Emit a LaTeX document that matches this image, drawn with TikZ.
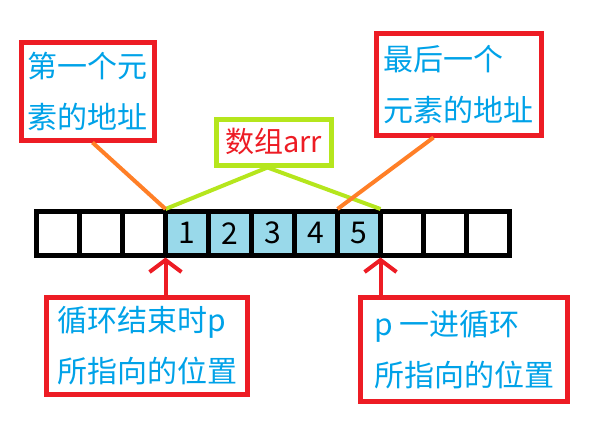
\documentclass[tikz,border=0pt]{standalone}
\usepackage{fontspec}
\setmainfont{Noto Sans CJK SC}
\usepackage{tikz}
\usetikzlibrary{calc}
\usetikzlibrary{positioning, arrows.meta}
\definecolor{paintred}{HTML}{ED1C24}
\definecolor{paintblue}{HTML}{00A2E8}
\definecolor{paintlime}{HTML}{B5E61D}
\definecolor{paintorange}{HTML}{FF7F27}
\definecolor{cellblue}{HTML}{99D9EA}
\tikzset{
    orangeline/.style={paintorange, line width=4pt},
    limeline/.style={paintlime, line width=4pt},
    pointer/.style={-{Straight Barb[length=12pt, width=32pt]}, paintred, line width=4pt}
}

\begin{document}
\begin{tikzpicture}[
    x=1pt, y=-1pt,
    % 格子与说明框
    cell/.style={
        rectangle, draw=black, line width=5pt,
        minimum width=43pt, minimum height=43.5pt, inner sep=0pt,
        font=\fontsize{30}{36}\selectfont
    },
    used/.style={fill=cellblue},
    note/.style={
        rectangle, draw=paintred, line width=5pt, inner sep=0pt,
        align=left, text=paintblue, font=\fontsize{30}{51}\selectfont
    },
    title/.style={
        rectangle, draw=paintlime, line width=5pt, inner sep=0pt,
        text=paintred, font=\fontsize{29}{35}\selectfont
    }
]
    \useasboundingbox (0,0) rectangle (604,447);

    % 1. 数组格子 (前后空格 + 五个元素)
    \foreach \i in {1,2,3,9,10,11}
        \node[cell] (c\i) at ({15+43*\i},233.25) {};
    \foreach \v in {1,...,5} {
        \pgfmathtruncatemacro{\i}{\v+3}
        \node[cell, used] (c\i) at ({15+43*\i},233.25) {\v};
    }

    % 2. 格子之间的分界点
    \coordinate (topL) at ($(c3.north east)!.5!(c4.north west)$);
    \coordinate (topM) at ($(c7.north east)!.5!(c8.north west)$);
    \coordinate (topR) at ($(c8.north east)!.5!(c9.north west)$);
    \coordinate (lowL) at ($(c3.south east)!.5!(c4.south west)$);
    \coordinate (lowR) at ($(c8.south east)!.5!(c9.south west)$);

    % 3. 上方说明
    \node[note, minimum width=133pt, minimum height=98pt] (first) at (87.5,91) {第一个元\\素的地址};
    \node[note, minimum width=165pt, minimum height=101.5pt] (last) at (458.5,84.25) {最后一个\\元素的地址};
    \node[title, minimum width=115pt, minimum height=46pt] (arr) at (273.5,142) {数组arr};

    \draw[limeline] (topL) -- ([xshift=-6pt]arr.south) -- (topR);
    \draw[orangeline] ([xshift=5pt]first.south) -- (topL);
    \draw[orangeline] ([xshift=-25pt]last.south) -- (topM);

    % 4. 下方说明 (指针位置)
    \node[note, minimum width=201pt, minimum height=97pt] (stop) at (147,346) {循环结束时p\\所指向的位置};
    \node[note, minimum width=207pt, minimum height=104pt] (start) at (464,349.5) {p 一进循环\\所指向的位置};

    \draw[pointer] (lowL |- stop.north) -- (lowL);
    \draw[pointer] (lowR |- start.north) -- (lowR);

\end{tikzpicture}
\end{document}
